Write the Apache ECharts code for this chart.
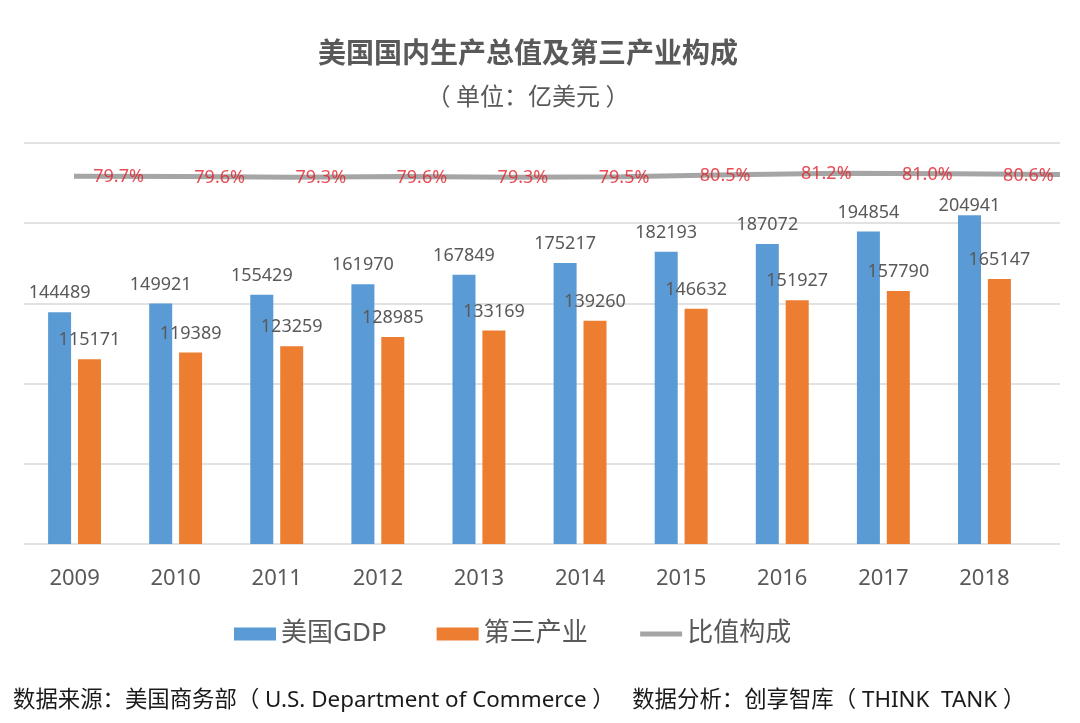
<!DOCTYPE html>
<html>
<head>
<meta charset="utf-8">
<script src="https://cdn.jsdelivr.net/npm/echarts@6/dist/echarts.min.js"></script>
<style>
html,body{margin:0;padding:0;background:#fff;}
#chart{width:1080px;height:723px;}
</style>
</head>
<body>
<div id="chart"></div>
<script>
const years = ['2009','2010','2011','2012','2013','2014','2015','2016','2017','2018'];
const gdp = [144489, 149921, 155429, 161970, 167849, 175217, 182193, 187072, 194854, 204941];
const tertiary = [115171, 119389, 123259, 128985, 133169, 139260, 146632, 151927, 157790, 165147];
const ratio = [79.7, 79.6, 79.3, 79.6, 79.3, 79.5, 80.5, 81.2, 81.0, 80.6];

const FONT = "'Noto Sans', 'Noto Sans CJK SC', sans-serif";
const chart = echarts.init(document.getElementById('chart'));

const gridTop = 143, gridBottom = 179;

chart.setOption({
  backgroundColor: '#ffffff',
  animation: false,
  textStyle: { fontFamily: FONT },
  title: [
    { text: '美国国内生产总值及第三产业构成', left: 523, textAlign: 'center', top: 33,
      textStyle: { fontSize: 28, fontWeight: 'bold', color: '#595959', fontFamily: "'Noto Sans CJK SC', sans-serif" } },
    { text: '（ 单位：亿美元 ）', left: 523, textAlign: 'center', top: 79,
      textStyle: { fontSize: 24, fontWeight: 'normal', color: '#595959', fontFamily: "'Noto Sans CJK SC', sans-serif" } },
    { text: '数据来源：美国商务部（ U.S. Department of Commerce ）   数据分析：创享智库（ THINK  TANK ）', left: 8, top: 684,
      textStyle: { fontSize: 22.4, fontWeight: 'normal', color: '#1a1a1a', fontFamily: FONT } }
  ],
  legend: {
    left: 229, top: 616,
    itemWidth: 42, itemHeight: 13, itemGap: 50,
    textStyle: { fontSize: 26, color: '#595959' },
    data: [
      { name: '美国GDP', icon: 'rect' },
      { name: '第三产业', icon: 'rect' },
      { name: '比值构成', itemStyle: { color: 'rgba(0,0,0,0)', borderWidth: 0, opacity: 0 },
        lineStyle: { color: '#a5a5a5', width: 5 } }
    ]
  },
  grid: [
    { left: 24, right: 45, top: gridTop, bottom: gridBottom },
    { left: 24, right: 20, top: gridTop, bottom: gridBottom },
    { left: 74, right: 20, top: gridTop, bottom: gridBottom }
  ],
  xAxis: [
    { type: 'category', gridIndex: 0, data: years,
      axisLine: { show: false }, axisTick: { show: false },
      axisLabel: { fontSize: 22, color: '#595959', margin: 24 } },
    { type: 'category', gridIndex: 1, data: years, show: false },
    { type: 'category', gridIndex: 2, data: years, boundaryGap: false, show: false }
  ],
  yAxis: [
    { type: 'value', gridIndex: 0, min: 0, max: 250000, interval: 50000, show: false, splitLine: { show: false } },
    { type: 'value', gridIndex: 0, min: -100, max: 96, show: false, splitLine: { show: false } },
    { type: 'value', gridIndex: 1, min: 0, max: 250000, interval: 50000,
      axisLine: { show: false }, axisTick: { show: false }, axisLabel: { show: false },
      splitLine: { show: true, lineStyle: { color: '#d9d9d9', width: 1.5 } } },
    { type: 'value', gridIndex: 2, min: -100, max: 96, show: false, splitLine: { show: false } }
  ],
  series: [
    { name: '美国GDP', type: 'bar', xAxisIndex: 0, yAxisIndex: 0,
      barWidth: 23, barGap: '30%',
      itemStyle: { color: '#5b9bd5' },
      label: { show: true, position: 'top', distance: 10, fontSize: 18, color: '#595959' },
      data: gdp.map((v, i) => i === gdp.length - 1 ? { value: v, label: { distance: 0 } } : v) },
    { name: '第三产业', type: 'bar', xAxisIndex: 0, yAxisIndex: 0,
      barWidth: 23, barGap: '30%',
      itemStyle: { color: '#ed7d31' },
      label: { show: true, position: 'top', distance: 10, fontSize: 18, color: '#595959' },
      data: tertiary },
    { name: '比值构成', type: 'line', xAxisIndex: 2, yAxisIndex: 3,
      symbol: 'none', z: 3,
      lineStyle: { color: '#a5a5a5', width: 5 },
      itemStyle: { color: '#a5a5a5' },
      data: ratio },
    { name: 'ratioLabels', type: 'scatter', xAxisIndex: 0, yAxisIndex: 1,
      symbolSize: 0, z: 5, silent: true,
      label: { show: true, position: 'inside', offset: [44, 1], fontSize: 18, color: '#e3202a',
        formatter: p => p.value.toFixed(1) + '%' },
      data: ratio }
  ]
});
</script>
</body>
</html>
